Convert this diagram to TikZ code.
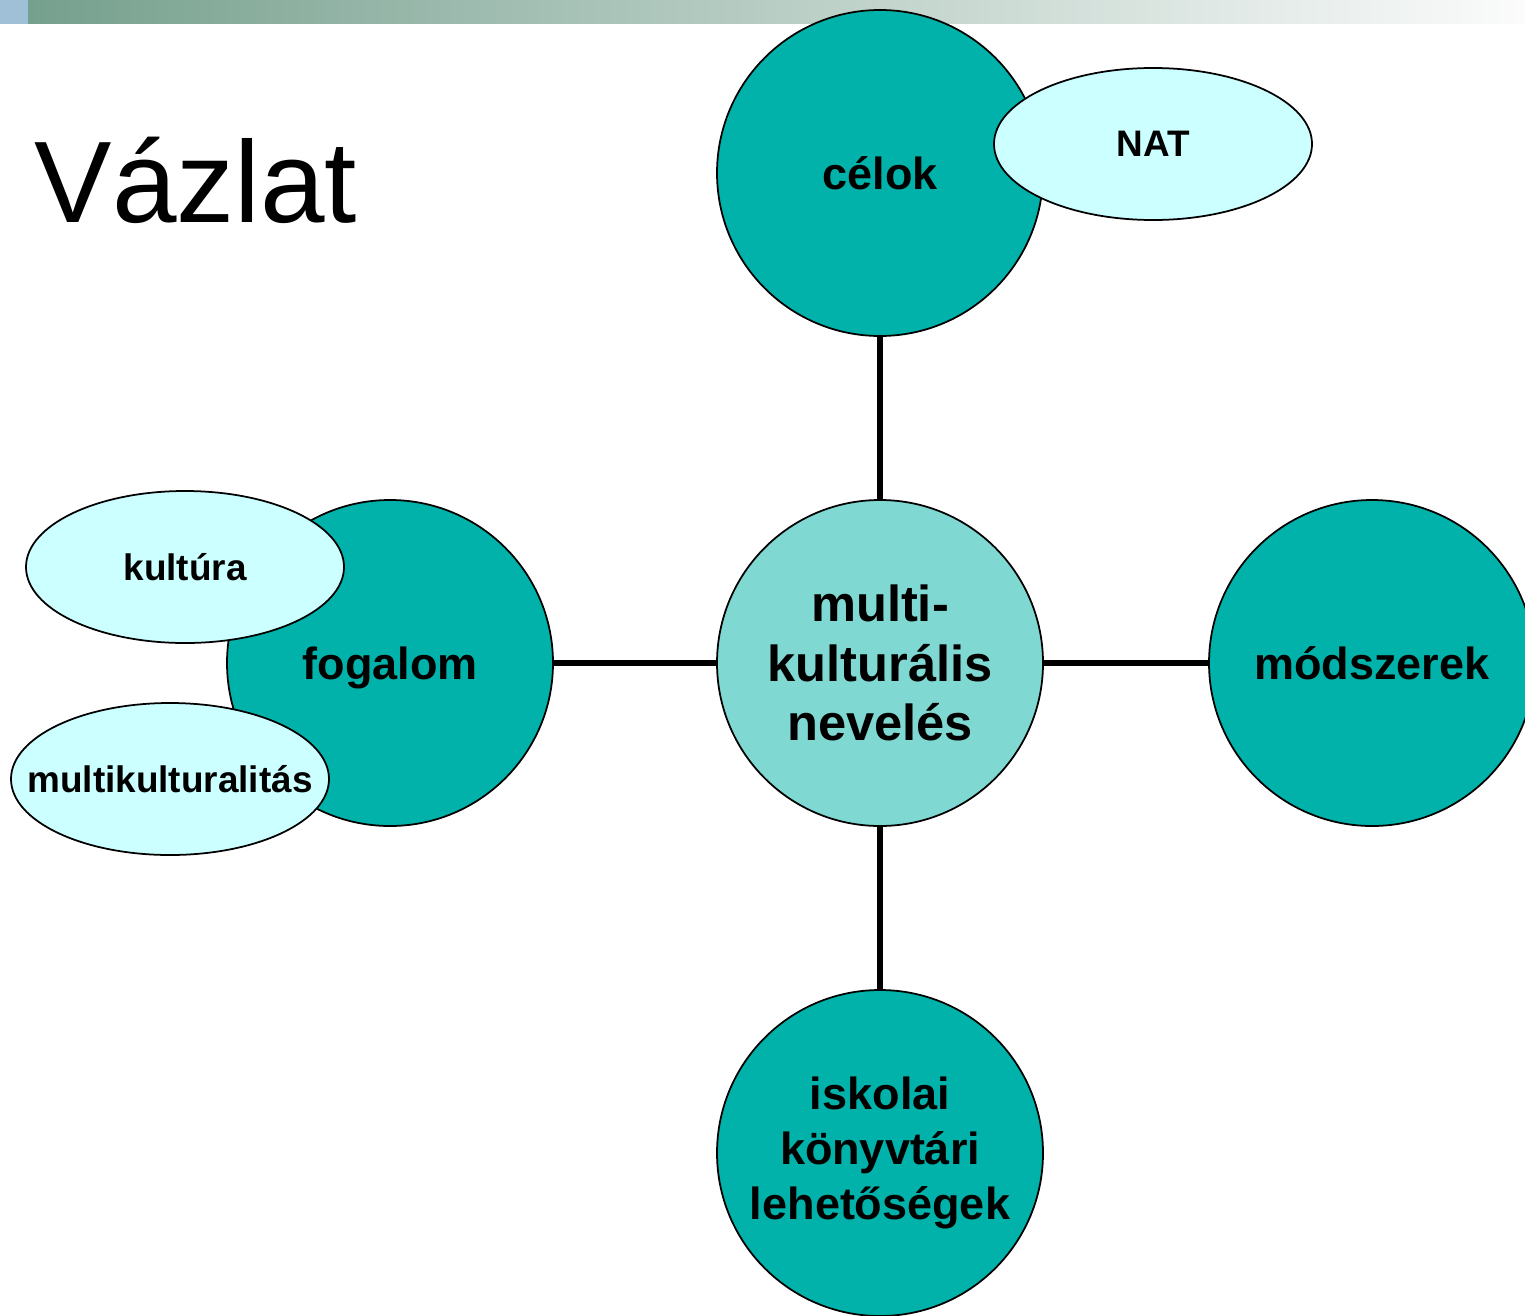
\documentclass[tikz,border=0pt]{standalone}
\usepackage{fontspec}
\setmainfont{Liberation Sans}
\usetikzlibrary{shapes.geometric}
\definecolor{teal1}{HTML}{00B2A9}
\definecolor{teal2}{HTML}{80D8D2}
\definecolor{paleblue}{HTML}{CCFFFF}
\definecolor{barblue}{HTML}{A0C0D8}
\definecolor{bargreen}{HTML}{76A08E}

\begin{document}
\begin{tikzpicture}
\useasboundingbox (0,0) rectangle (15.25,13.15);
\clip (0,0) rectangle (15.25,13.15);

% header bar
\fill[barblue] (0,12.91) rectangle (0.28,13.15);
\shade[left color=bargreen, right color=white!97!gray] (0.28,12.91) rectangle (15.25,13.15);
\node[anchor=base west, inner sep=0pt, font=\fontsize{33}{40}\selectfont] (title) at (0.34,10.93) {Vázlat};

\begin{scope}[every node/.style={circle,draw,line width=0.5pt,fill=teal1,
              minimum size=3.26cm,inner sep=0pt,align=center,
              font=\fontsize{12.8}{17}\selectfont\bfseries}]
    \node[fill=teal2,font=\fontsize{14.4}{16.9}\selectfont\bfseries] (M) at (8.80,6.52) {multi-\\kulturális\\nevelés};
    \node (C) at (8.80,11.42) {célok};
    \node[text depth=0pt] (F) at (3.90,6.52) {fogalom};
    \node (S) at (13.72,6.52) {módszerek};
    \node[font=\fontsize{12.8}{15.6}\selectfont\bfseries] (K) at (8.80,1.62) {iskolai\\könyvtári\\lehetőségek};
\end{scope}

\begin{scope}[every node/.style={ellipse,draw,line width=0.5pt,fill=paleblue,
              minimum width=3.18cm,minimum height=1.52cm,inner sep=0pt,inner xsep=-0.6cm,
              font=\fontsize{10.5}{12}\selectfont\bfseries}]
    \node (N) at (11.53,11.71) {NAT};
    \node (KU) at (1.85,7.48) {kultúra};
    \node (MK) at (1.70,5.36) {multikulturalitás};
\end{scope}

\begin{scope}[every edge/.style={draw=black,line width=1.7pt}]
    \path [-] (M) edge (C);
    \path [-] (M) edge (F);
    \path [-] (M) edge (S);
    \path [-] (M) edge (K);
\end{scope}
\end{tikzpicture}
\end{document}
